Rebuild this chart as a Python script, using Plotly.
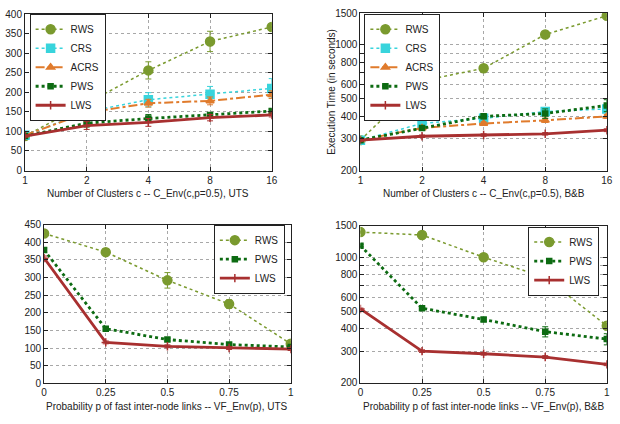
import math
import plotly.graph_objects as go

# ---------------- data ----------------
clusters = [1, 2, 4, 8, 16]
probs = [0, 0.25, 0.5, 0.75, 1]
prob_labels = ["0", "0.25", "0.5", "0.75", "1"]

# Top-left: UTS vs clusters
uts_c_rws = [88, 173, 256, 330, 367]
uts_c_crs = [90, 150, 181, 195, 210]
uts_c_acrs = [90, 148, 172, 178, 194]
uts_c_pws = [88, 121, 133, 142, 152]
uts_c_lws = [88, 115, 123, 135, 142]
uts_c_rws_err = [3, 20, 22, 26, 8]
uts_c_crs_err = [3, 6, 18, 20, 25]
uts_c_acrs_err = [3, 6, 10, 10, 10]
uts_c_pws_err = [3, 10, 10, 6, 5]
uts_c_lws_err = [3, 10, 10, 8, 5]

# Top-right: B&B vs clusters
bb_c_rws = [295, 630, 740, 1140, 1450]
bb_c_crs = [295, 365, 390, 425, 440]
bb_c_acrs = [295, 345, 365, 380, 400]
bb_c_pws = [295, 345, 400, 415, 460]
bb_c_lws = [295, 310, 315, 320, 335]
bb_c_rws_err = [5, 15, 15, 20, 20]
bb_c_crs_err = [5, 10, 10, 12, 15]
bb_c_acrs_err = [5, 8, 8, 10, 10]
bb_c_pws_err = [5, 10, 12, 25, 35]
bb_c_lws_err = [5, 5, 5, 5, 6]

# Bottom-left: UTS vs probability
uts_p_rws = [425, 372, 292, 225, 112]
uts_p_pws = [378, 155, 124, 110, 103]
uts_p_lws = [355, 116, 105, 100, 97]
uts_p_rws_err = [8, 10, 22, 12, 8]
uts_p_pws_err = [6, 4, 4, 4, 4]
uts_p_lws_err = [6, 4, 4, 4, 4]

# Bottom-right: B&B vs probability
bb_p_rws = [1380, 1330, 1000, 770, 415]
bb_p_pws = [1160, 520, 450, 385, 350]
bb_p_lws = [515, 300, 290, 278, 253]
bb_p_rws_err = [20, 20, 20, 20, 12]
bb_p_pws_err = [20, 10, 12, 25, 25]
bb_p_lws_err = [6, 5, 5, 5, 4]

# ---------------- styles ----------------
styles = {
    "RWS": dict(color="#7a9a2e", dash="dot", width=1.5, symbol="circle", size=9),
    "CRS": dict(color="#38d4dc", dash="dot", width=1.5, symbol="square", size=8),
    "ACRS": dict(color="#e07b2c", dash="dashdot", width=2, symbol="triangle-up", size=7),
    "PWS": dict(color="#0d6b12", dash="dot", width=2.8, symbol="square", size=5),
    "LWS": dict(color="#a83030", dash="solid", width=2.8, symbol="cross-thin", size=6),
}

fig = go.Figure()


def add(name, xs, ys, errs, xa, ya, legend):
    s = styles[name]
    fig.add_trace(go.Scatter(
        x=xs, y=ys, name=name, mode="lines+markers",
        line=dict(color=s["color"], dash=s["dash"], width=s["width"]),
        marker=dict(color=s["color"], symbol=s["symbol"], size=s["size"],
                    line=dict(color=s["color"], width=1.5)),
        error_y=dict(type="data", array=errs, visible=True, color=s["color"],
                     thickness=1, width=3),
        xaxis=xa, yaxis=ya, legend=legend,
    ))


add("RWS", clusters, uts_c_rws, uts_c_rws_err, "x", "y", "legend")
add("CRS", clusters, uts_c_crs, uts_c_crs_err, "x", "y", "legend")
add("ACRS", clusters, uts_c_acrs, uts_c_acrs_err, "x", "y", "legend")
add("PWS", clusters, uts_c_pws, uts_c_pws_err, "x", "y", "legend")
add("LWS", clusters, uts_c_lws, uts_c_lws_err, "x", "y", "legend")

add("RWS", clusters, bb_c_rws, bb_c_rws_err, "x2", "y2", "legend2")
add("CRS", clusters, bb_c_crs, bb_c_crs_err, "x2", "y2", "legend2")
add("ACRS", clusters, bb_c_acrs, bb_c_acrs_err, "x2", "y2", "legend2")
add("PWS", clusters, bb_c_pws, bb_c_pws_err, "x2", "y2", "legend2")
add("LWS", clusters, bb_c_lws, bb_c_lws_err, "x2", "y2", "legend2")

add("RWS", probs, uts_p_rws, uts_p_rws_err, "x3", "y3", "legend3")
add("PWS", probs, uts_p_pws, uts_p_pws_err, "x3", "y3", "legend3")
add("LWS", probs, uts_p_lws, uts_p_lws_err, "x3", "y3", "legend3")

add("RWS", probs, bb_p_rws, bb_p_rws_err, "x4", "y4", "legend4")
add("PWS", probs, bb_p_pws, bb_p_pws_err, "x4", "y4", "legend4")
add("LWS", probs, bb_p_lws, bb_p_lws_err, "x4", "y4", "legend4")

W, H = 620, 424


def px_x(a, b):
    return [a / W, b / W]


def px_y(top, bottom):
    return [1 - bottom / H, 1 - top / H]


axis_common = dict(
    showline=True, linecolor="#222", linewidth=1, mirror="ticks",
    ticks="inside", ticklen=4, tickcolor="#222",
    showgrid=True, gridcolor="#a8a8a8", griddash="dot", gridwidth=1,
    zeroline=False, tickfont=dict(size=10, color="#222"),
)

log_ticks = [200, 300, 400, 500, 600, 700, 800, 900, 1000, 1500]
log_text = ["200", "300", "400", "500", "600", "", "800", "", "1000", "1500"]

fig.update_layout(
    width=W, height=H, margin=dict(l=0, r=0, t=0, b=0),
    paper_bgcolor="white", plot_bgcolor="white",
    font=dict(family="Liberation Sans, Arial, sans-serif", size=10, color="#222"),
    xaxis=dict(axis_common, domain=px_x(22.3, 272.7), type="log",
               range=[0, math.log10(16)], tickvals=clusters,
               ticktext=[str(c) for c in clusters], anchor="y"),
    yaxis=dict(axis_common, domain=px_y(8.3, 169.3), range=[0, 400],
               dtick=50, anchor="x"),
    xaxis2=dict(axis_common, domain=px_x(362.7, 612.7), type="log",
                range=[0, math.log10(16)], tickvals=clusters,
                ticktext=[str(c) for c in clusters], anchor="y2"),
    yaxis2=dict(axis_common, domain=px_y(7.3, 169.3), type="log",
                range=[math.log10(200), math.log10(1500)],
                tickvals=log_ticks, ticktext=log_text, anchor="x2"),
    xaxis3=dict(axis_common, domain=px_x(41.7, 292), range=[0, 1],
                tickvals=probs, ticktext=prob_labels, anchor="y3"),
    yaxis3=dict(axis_common, domain=px_y(225, 388.3), range=[0, 450],
                dtick=50, anchor="x3"),
    xaxis4=dict(axis_common, domain=px_x(362.7, 612.7), range=[0, 1],
                tickvals=probs, ticktext=prob_labels, anchor="y4"),
    yaxis4=dict(axis_common, domain=px_y(226, 387.7), type="log",
                range=[math.log10(200), math.log10(1500)],
                tickvals=log_ticks, ticktext=log_text, anchor="x4"),
)

leg_common = dict(bgcolor="white", bordercolor="#222", borderwidth=1,
                  font=dict(size=10, color="#222"), tracegroupgap=0,
                  itemsizing="trace")
fig.update_layout(
    legend=dict(leg_common, x=27 / W, y=1 - 8 / H, xanchor="left", yanchor="top"),
    legend2=dict(leg_common, x=366.7 / W, y=1 - 8 / H, xanchor="left", yanchor="top"),
    legend3=dict(leg_common, x=286 / W, y=1 - 225 / H, xanchor="right", yanchor="top"),
    legend4=dict(leg_common, x=605 / W, y=1 - 227 / H, xanchor="right", yanchor="top"),
)

title_font = dict(size=10, color="#222")


def label(text, xc, yc, angle=0):
    fig.add_annotation(text=text, x=xc / W, y=1 - yc / H, xref="paper",
                       yref="paper", xanchor="center", yanchor="middle",
                       showarrow=False, font=title_font, textangle=angle)


label("Number of Clusters c -- C_Env(c,p=0.5), UTS", 147.5, 193)
label("Number of Clusters c -- C_Env(c,p=0.5), B&B", 487.7, 193)
label("Probability p of fast inter-node links -- VF_Env(p), UTS", 166.8, 412)
label("Probability p of fast inter-node links -- VF_Env(p), B&B", 487.7, 412)
label("Execution Time (in seconds)", 333, 88, -90)

fig.write_html("out.html")
